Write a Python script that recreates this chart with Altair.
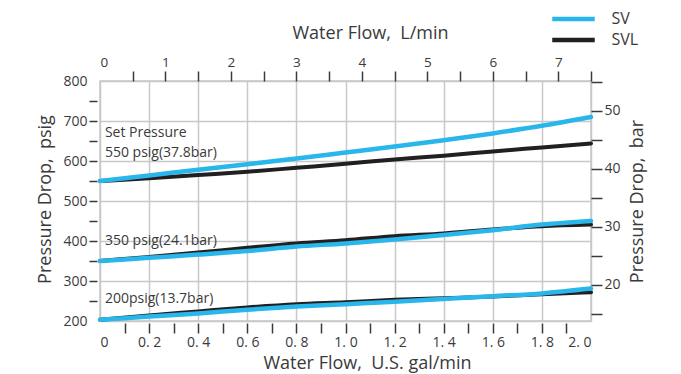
import altair as alt
import pandas as pd

# Flow in U.S. gal/min and pressure drop in psig for each set pressure
flow = [0, 0.2, 0.4, 0.6, 0.8, 1.0, 1.2, 1.4, 1.6, 1.8, 2.0]

sv_550 = [550, 564, 578, 592, 606, 621, 636, 652, 669, 688, 710]
svl_550 = [550, 557, 565, 573, 583, 593, 604, 613, 624, 634, 644]
sv_350 = [350, 358, 366, 375, 386, 394, 404, 415, 427, 441, 450]
svl_350 = [350, 360, 371, 383, 394, 402, 412, 419, 429, 437, 441]
sv_200 = [203, 211, 219, 228, 236, 242, 248, 255, 262, 269, 281]
svl_200 = [203, 214, 224, 234, 242, 247, 253, 257, 261, 267, 272]

models = ["SV", "SVL"]
model_colors = ["#29b6ea", "#231f20"]

# Set-pressure captions placed next to the curves
note_text = ["Set Pressure", "550 psig(37.8bar)", "350 psig(24.1bar)", "200psig(13.7bar)"]
note_flow = [0.02, 0.02, 0.02, 0.02]
note_psig = [670, 620, 400, 255]

# Secondary scales
lpm_range = [0, 7.5]
psi_per_bar = 14.5038
psig_range = [200, 800]

rows = []
for setp, sv, svl in [("550", sv_550, svl_550), ("350", sv_350, svl_350), ("200", sv_200, svl_200)]:
    for f, a, b in zip(flow, sv, svl):
        rows.append({"flow": f, "psig": a, "model": "SV", "setp": setp})
        rows.append({"flow": f, "psig": b, "model": "SVL", "setp": setp})
df = pd.DataFrame(rows)
notes = pd.DataFrame({"flow": note_flow, "psig": note_psig, "text": note_text})

FONT = "Open Sans"
TXT = "#3a3a3a"
GRID = "#c8c8c8"
NB = "\u00a0"  # keeps the double space in axis titles

gal_ticks = [round(i * 0.1, 1) for i in range(21)]
psig_ticks = list(range(200, 801, 50))
lpm_ticks = [i * 0.5 for i in range(16)]
bar_ticks = list(range(15, 56, 5))

x_main = alt.X(
    "flow:Q",
    scale=alt.Scale(domain=[0, 2], nice=False, zero=False),
    axis=alt.Axis(
        orient="bottom", values=gal_ticks, domain=False, offset=2, tickSize=10,
        tickWidth=1.5, labelPadding=2, labelFontSize=14,
        labelExpr="datum.value == 0 ? '0' : (round(datum.value*10) % 2 == 0 ? replace(format(datum.value, '.1f'), '.', '. ') : '')",
        tickColor={"condition": {"test": "datum.value == 0 || datum.value == 2", "value": "transparent"}, "value": TXT},
        grid=True,
        gridColor={"condition": {"test": "round(datum.value*10) % 2 == 0", "value": GRID}, "value": "transparent"},
        title=f"Water Flow,{NB} U.S. gal/min", titleX=267, titleY=45, titleAlign="center",
        titleBaseline="alphabetic", titleAngle=0,
    ),
)
y_main = alt.Y(
    "psig:Q",
    scale=alt.Scale(domain=psig_range, nice=False, zero=False),
    axis=alt.Axis(
        orient="left", values=psig_ticks, domain=False, offset=3, tickSize=8,
        tickWidth=1.5, labelPadding=2, labelFontSize=14,
        labelExpr="datum.value % 100 == 0 ? datum.value : ''",
        tickColor={"condition": {"test": "datum.value == 200 || datum.value == 800", "value": "transparent"}, "value": TXT},
        grid=True,
        gridColor={"condition": {"test": "datum.value % 100 == 0", "value": GRID}, "value": "transparent"},
        title=f"Pressure Drop,{NB} psig", titleX=-52, titleY=118, titleAlign="center",
        titleBaseline="middle", titleAngle=270,
    ),
)
color = alt.Color(
    "model:N",
    scale=alt.Scale(domain=models, range=model_colors),
    legend=alt.Legend(
        title=None, orient="none", legendX=462.5, legendY=-73, padding=0,
        symbolType="M-2.5,0H2.5", symbolSize=289, symbolStrokeWidth=4.5,
        labelFontSize=16, labelFont=FONT, labelColor=TXT, labelOffset=27,
        rowPadding=1,
    ),
)

base = alt.Chart(df)
svl_lines = base.transform_filter("datum.model == 'SVL'").mark_line(
    strokeWidth=4, strokeCap="round", interpolate="monotone"
).encode(x=x_main, y=y_main, color=color, detail="setp:N")
sv_lines = base.transform_filter("datum.model == 'SV'").mark_line(
    strokeWidth=4.5, strokeCap="round", interpolate="monotone"
).encode(x=x_main, y=y_main, color=color, detail="setp:N")
labels = alt.Chart(notes).mark_text(
    align="left", baseline="middle", font=FONT, fontSize=14, color=TXT
).encode(x=x_main, y=y_main, text="text:N")

main = alt.layer(svl_lines, sv_lines, labels)

# L/min scale along the top
top = alt.Chart(pd.DataFrame({"lpm": lpm_range})).mark_point(opacity=0).encode(
    x=alt.X(
        "lpm:Q",
        scale=alt.Scale(domain=lpm_range, nice=False, zero=False),
        axis=alt.Axis(
            orient="top", values=lpm_ticks, domain=False, offset=0, tickSize=10,
            tickWidth=1.5, labelPadding=2, labelFontSize=13.5, grid=False,
            labelExpr="datum.value % 1 == 0 && datum.value < 7.5 ? datum.value : ''",
            tickColor={"condition": {"test": "datum.value == 0", "value": "transparent"}, "value": TXT},
            title=f"Water Flow,{NB} L/min", titleX=270, titleY=-43, titleAlign="center",
            titleBaseline="alphabetic",
        ),
    )
)

# bar scale on the right
bar_range = [psig_range[0] / psi_per_bar, psig_range[1] / psi_per_bar]
right = alt.Chart(pd.DataFrame({"bar": bar_range})).mark_point(opacity=0).encode(
    y=alt.Y(
        "bar:Q",
        scale=alt.Scale(domain=bar_range, nice=False, zero=False),
        axis=alt.Axis(
            orient="right", values=bar_ticks, domain=False, offset=0, tickSize=11,
            tickWidth=1.5, labelPadding=2, labelFontSize=14, grid=False,
            labelExpr="datum.value % 10 == 0 ? datum.value : ''",
            tickColor=TXT,
            title=f"Pressure Drop,{NB} bar", titleX=46, titleY=120, titleAlign="center",
            titleBaseline="middle", titleAngle=270,
        ),
    )
)

chart = alt.layer(main, top, right).resolve_scale(
    x="independent", y="independent"
).properties(
    width=491, height=240,
    padding={"left": 100, "top": 81, "right": 90, "bottom": 53},
    autosize=alt.AutoSizeParams(type="none"),
    background="white",
).configure_view(
    stroke=GRID, strokeWidth=1.5
).configure_axis(
    labelFont=FONT, titleFont=FONT, labelColor=TXT, titleColor=TXT,
    titleFontSize=18, titleFontWeight="normal", gridWidth=1.5,
)

chart.save("out.html", embed_options={"renderer": "svg", "actions": False})
